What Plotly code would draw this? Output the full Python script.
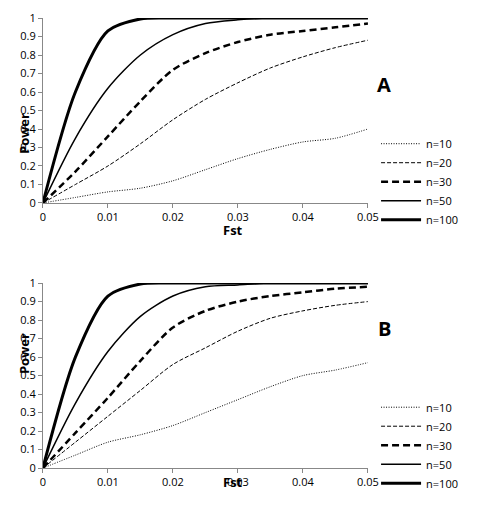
import plotly.graph_objects as go

fst = [0, 0.005, 0.01, 0.015, 0.02, 0.025, 0.03, 0.035, 0.04, 0.045, 0.05]
names = ["n=10", "n=20", "n=30", "n=50", "n=100"]
power_a = [
    [0, 0.03, 0.06, 0.08, 0.12, 0.18, 0.24, 0.29, 0.33, 0.35, 0.40],
    [0, 0.10, 0.20, 0.32, 0.45, 0.56, 0.65, 0.73, 0.79, 0.84, 0.88],
    [0, 0.17, 0.36, 0.55, 0.72, 0.81, 0.87, 0.91, 0.93, 0.95, 0.97],
    [0, 0.35, 0.62, 0.80, 0.91, 0.97, 0.99, 1, 1, 1, 1],
    [0, 0.60, 0.93, 0.995, 1, 1, 1, 1, 1, 1, 1],
]
power_b = [
    [0, 0.07, 0.14, 0.18, 0.23, 0.30, 0.37, 0.44, 0.50, 0.53, 0.57],
    [0, 0.14, 0.28, 0.42, 0.56, 0.65, 0.74, 0.81, 0.85, 0.88, 0.90],
    [0, 0.19, 0.38, 0.58, 0.76, 0.85, 0.90, 0.93, 0.95, 0.97, 0.98],
    [0, 0.35, 0.63, 0.82, 0.93, 0.98, 0.99, 1, 1, 1, 1],
    [0, 0.60, 0.93, 0.995, 1, 1, 1, 1, 1, 1, 1],
]
y_ticks = [0, 0.1, 0.2, 0.3, 0.4, 0.5, 0.6, 0.7, 0.8, 0.9, 1]
y_labels = ["0", "0.1", "0.2", "0.3", "0.4", "0.5", "0.6", "0.7", "0.8", "0.9", "1"]
x_ticks = [0, 0.01, 0.02, 0.03, 0.04, 0.05]
x_labels = ["0", "0.01", "0.02", "0.03", "0.04", "0.05"]
dashes = ["1px,1.5px", "4px,2px", "7px,4px", "solid", "solid"]
widths = [1, 1, 2.5, 1.5, 3]

fig = go.Figure()
for panel, data, xa, ya, leg in [("A", power_a, "x", "y", "legend"), ("B", power_b, "x2", "y2", "legend2")]:
    for name, ys, d, w in zip(names, data, dashes, widths):
        fig.add_trace(go.Scatter(x=fst, y=ys, name=name, mode="lines", xaxis=xa, yaxis=ya, legend=leg,
                                 line=dict(color="black", dash=d, width=w, shape="spline", smoothing=0.8)))

font = dict(family="Open Sans, Liberation Sans", size=11, color="black")
ax = dict(showgrid=False, zeroline=False, showline=True, linecolor="#888", ticks="outside", tickcolor="#888",
          ticklen=4, tickfont=font, automargin=False)
xax = dict(ax, range=[0, 0.05], tickvals=x_ticks, ticktext=x_labels, domain=[0.073, 0.753])
yax = dict(ax, range=[0, 1], tickvals=y_ticks, ticktext=y_labels)

legstyle = dict(font=dict(family="Open Sans, Liberation Sans", size=11, color="black"),
                bgcolor="rgba(0,0,0,0)", tracegroupgap=0, itemwidth=40, x=0.77, xanchor="left")

fig.update_layout(
    width=478, height=527, margin=dict(l=0, r=0, t=0, b=0, autoexpand=False),
    plot_bgcolor="white", paper_bgcolor="white",
    xaxis=dict(xax, anchor="y"), yaxis=dict(yax, domain=[0.63, 0.981], anchor="x"),
    xaxis2=dict(xax, anchor="y2"), yaxis2=dict(yax, domain=[0.127, 0.478], anchor="x2"),
    legend=dict(legstyle, y=0.77, yanchor="top"),
    legend2=dict(legstyle, y=0.27, yanchor="top"),
    annotations=[
        dict(text="<b>A</b>", x=0.805, y=0.885, xref="paper", yref="paper", showarrow=False,
             font=dict(family="Open Sans", size=20, color="black")),
        dict(text="<b>B</b>", x=0.805, y=0.392, xref="paper", yref="paper", showarrow=False,
             font=dict(family="Open Sans", size=20, color="black")),
        dict(text="<b>Fst</b>", x=0.47, y=0.578, xref="paper", yref="paper", showarrow=False,
             font=dict(family="Open Sans", size=13, color="black")),
        dict(text="<b>Fst</b>", x=0.47, y=0.079, xref="paper", yref="paper", showarrow=False,
             font=dict(family="Open Sans", size=13, color="black")),
        dict(text="<b>Power</b>", x=0.012, y=0.805, xref="paper", yref="paper", showarrow=False, textangle=-90,
             font=dict(family="Open Sans", size=13, color="black")),
        dict(text="<b>Power</b>", x=0.012, y=0.302, xref="paper", yref="paper", showarrow=False, textangle=-90,
             font=dict(family="Open Sans", size=13, color="black")),
    ],
)

fig.write_html("out.html")
